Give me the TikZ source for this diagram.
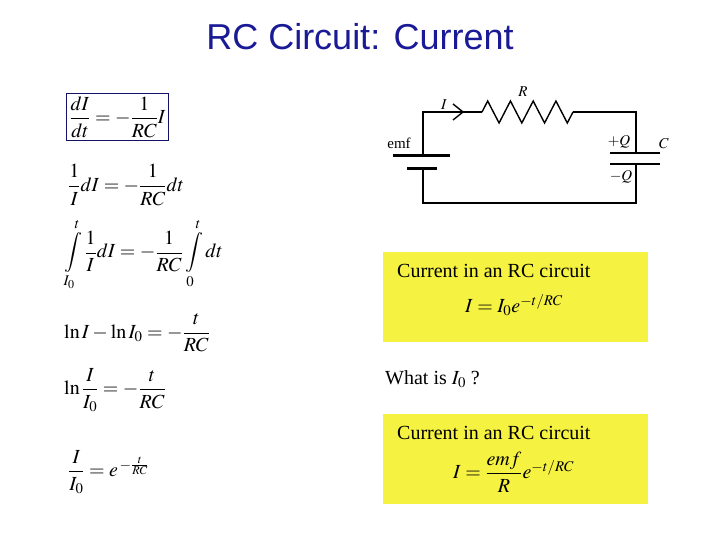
\documentclass[tikz,border=0pt]{standalone}
\usepackage{amsmath}
\usepackage{mathptmx}
\usepackage{fontspec}
\setmainfont{Liberation Serif}
\newfontfamily\titlefont{Liberation Sans}
\usetikzlibrary{decorations.pathmorphing,arrows.meta}
\definecolor{titleblue}{RGB}{26,26,150}
\definecolor{boxyellow}{RGB}{245,242,66}
\tikzset{eq/.style={anchor=west,inner sep=0pt,font=\fontsize{20}{24}\selectfont},
 wire/.style={line width=1.4pt},
 plate/.style={line width=3pt},
 lbl/.style={font=\fontsize{15}{17}\selectfont,inner sep=1pt},
 ybox/.style={fill=boxyellow,draw=none}}
\begin{document}
\begin{tikzpicture}[x=1pt,y=-1pt]
\useasboundingbox (0,0) rectangle (720,540);
\node[font=\titlefont\fontsize{36}{40}\selectfont,text=titleblue] (title) at (360,37) {RC Circuit: Current};
% equations
\node[eq,draw=titleblue!70!black,line width=1pt,inner sep=3pt] (e1) at (66,117) {$\dfrac{dI}{dt}=-\dfrac{1}{RC}I$};
\node[eq] (e2) at (68,185) {$\dfrac{1}{I}dI=-\dfrac{1}{RC}dt$};
\node[eq] (e3) at (64,255) {$\displaystyle\int\limits_{I_0}^{t}\dfrac{1}{I}dI=-\dfrac{1}{RC}\int\limits_{0}^{t}dt$};
\node[eq] (e4) at (64,333) {$\ln I-\ln I_0=-\dfrac{t}{RC}$};
\node[eq] (e5) at (64,390) {$\ln\dfrac{I}{I_0}=-\dfrac{t}{RC}$};
\node[eq] (e6) at (68,472) {$\dfrac{I}{I_0}=e^{\,-\frac{t}{RC}}$};
% yellow boxes
\fill[ybox] (383,252) rectangle (648,342);
\fill[ybox] (383,414) rectangle (648,504);
\node[eq] (b1) at (397,271) {Current in an RC circuit};
\node[eq] (b1e) at (465,305) {$I=I_0e^{-t/RC}$};
\node[eq] (q) at (385,379) {What is $I_0$ ?};
\node[eq] (b2) at (397,433) {Current in an RC circuit};
\node[eq] (b2e) at (453,472) {$I=\dfrac{emf}{R}e^{-t/RC}$};
% circuit
\coordinate (tl) at (423,112);
\coordinate (rs) at (482,112);
\coordinate (re) at (573,112);
\coordinate (tr) at (636,112);
\coordinate (cp1) at (636,153);
\coordinate (cp2) at (636,164);
\coordinate (br) at (636,203);
\coordinate (bl) at (423,203);
\coordinate (bt1) at (423,156);
\coordinate (bt2) at (423,169);
\draw[wire] (rs) -- (tl) -- (bt1);
\draw[wire] (bt2) -- (bl) -- (br) -- (cp2);
\draw[wire] (cp1) -- (tr) -- (re);
\draw[wire,decorate,decoration={zigzag,segment length=22.75pt,amplitude=11pt}] (rs) -- (re);
\draw[plate] (393,156) -- (450,156);
\draw[plate] (407,169) -- (437,169);
\draw[wire] (610,153) -- (660,153);
\draw[wire] (610,164) -- (660,164);
\draw[wire] (453,104) -- (463,112) -- (453,120);
\node[lbl] (lI) at (444,105) {$I$};
\node[lbl] (lR) at (523,92) {$R$};
\node[lbl] (lemf) at (399,143) {emf};
\node[lbl] (lpq) at (619,142) {$+Q$};
\node[lbl] (lmq) at (621,177) {$-Q$};
\node[lbl] (lC) at (664,144) {$C$};
\end{tikzpicture}
\end{document}
